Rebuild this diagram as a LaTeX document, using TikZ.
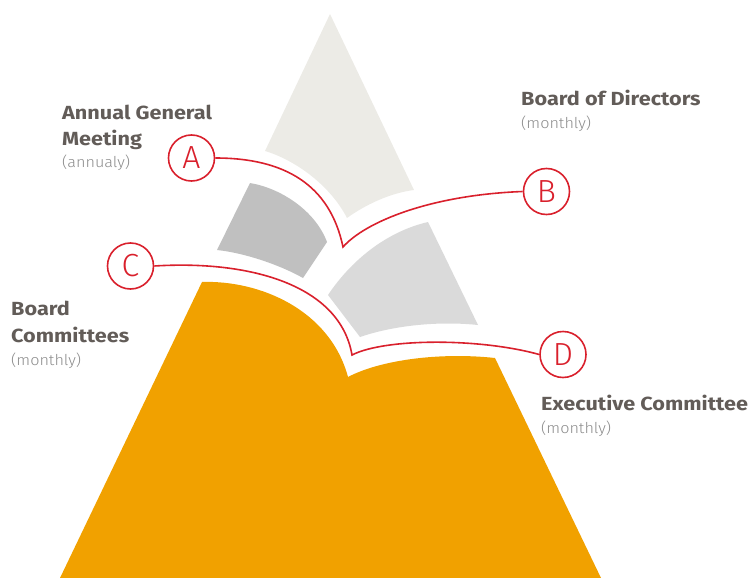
\documentclass[tikz,border=0pt]{standalone}
\usepackage{fontspec}
\setmainfont{Fira Sans}
\newfontfamily\widefont[FakeStretch=1.14]{Fira Sans}
\newfontfamily\thinfont{Fira Sans Light}
\newfontfamily\freqfont[FakeStretch=1.08]{Fira Sans Light}
\usepackage{tikz}
\usetikzlibrary{positioning}
\definecolor{peak}{HTML}{ECEBE6}
\definecolor{agmgray}{HTML}{C0C0C0}
\definecolor{bodgray}{HTML}{DADADA}
\definecolor{base}{HTML}{F1A100}
\definecolor{redline}{HTML}{D9202C}
\definecolor{headgray}{HTML}{625C58}
\definecolor{freqgray}{HTML}{8C8C8C}

\begin{document}
\begin{tikzpicture}
    [x=1pt, y=-1pt,
    letter/.style={circle, draw=redline, line width=1.6pt, minimum size=46pt, inner sep=0pt,
        text=redline, font=\thinfont\fontsize{32}{32}\selectfont},
    head/.style={anchor=base west, inner sep=0pt, text=headgray, font=\widefont\fontsize{19}{24}\selectfont\bfseries},
    freq/.style={anchor=base west, inner sep=0pt, text=freqgray, font=\freqfont\fontsize{15}{18}\selectfont},
    link/.style={draw=redline, line width=1.6pt}]

\useasboundingbox (0,0) rectangle (752,578);

\fill[peak] (330,14) -- (265,151) .. controls (295,160) and (330,185) .. (347,218)
    .. controls (365,205) and (390,193) .. (414,190) -- cycle;
\fill[agmgray] (250,183) .. controls (280,188) and (315,210) .. (327,242) -- (303,278)
    .. controls (280,265) and (245,253) .. (217,250) -- cycle;
\fill[bodgray] (328,295) .. controls (350,262) and (385,232) .. (428,222) -- (478,325)
    .. controls (440,321) and (395,325) .. (360,337) -- cycle;
\fill[base] (202,282) .. controls (260,280) and (330,310) .. (348,377)
    .. controls (380,360) and (440,352) .. (495,358) -- (601,578) -- (60,578) -- cycle;

\node[letter] (a) at (191.5,158) {A};
\node[letter] (b) at (546.5,191.5) {B};
\node[letter] (c) at (130.5,266) {C};
\node[letter] (d) at (563,354.5) {D};
\coordinate (va) at (343,247);
\coordinate (vc) at (352,355);

\draw[link] (a.east) .. controls (285,158) and (330,185) .. (va)
    .. controls (365,222) and (430,195) .. (b.west);
\draw[link] (c.east) .. controls (250,260) and (340,285) .. (vc)
    .. controls (385,338) and (480,338) .. (d.west);

\node[head] (agm) at (62,119) {Annual General};
\node[head] (agm2) at (62,145) {Meeting};
\node[freq] (agmfreq) at (62,167) {(annualy)};
\node[head] (bod) at (521,105) {Board of Directors};
\node[freq] (bodfreq) at (521,128) {(monthly)};
\node[head] (bc) at (11,315) {Board};
\node[head] (bc2) at (11,342) {Committees};
\node[freq] (bcfreq) at (11,365) {(monthly)};
\node[head] (exco) at (541,410) {Executive Committee};
\node[freq] (excofreq) at (541,433) {(monthly)};
\end{tikzpicture}
\end{document}
